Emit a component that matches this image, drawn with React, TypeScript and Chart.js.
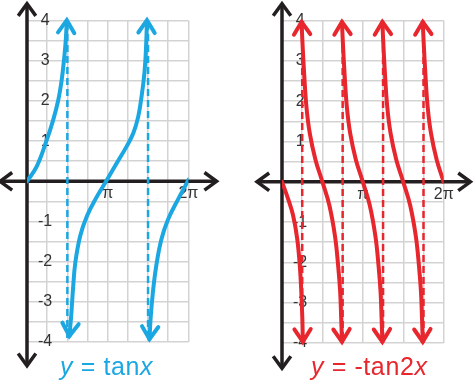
import React, { useEffect, useRef } from 'react';
import { Chart, registerables } from 'chart.js';

Chart.register(...registerables);

const PI = Math.PI;

// grid / tick definitions
const xGridQuarterPi = [0, 1, 2, 3, 4, 5, 6, 7, 8];
const xTickLabels = ['', '', '', '', 'π', '', '', '', '2π'];
const yGridValues = [-4, -3.5, -3, -2.5, -2, -1.5, -1, -0.5, 0, 0.5, 1, 1.5, 2, 2.5, 3, 3.5, 4];
const yTickLabels = ['-4', '', '-3', '', '-2', '', '-1', '', '', '', '1', '', '2', '', '3', '', '4'];

// y = tan x (x in radians)
const tanBranchA = [[0, 0], [0.38, 0.37], [0.77, 1.03], [1.02, 1.53], [1.22, 2.03], [1.35, 2.52], [1.44, 3.02], [1.51, 3.52], [1.55, 4.01]];
const tanBranchB = [[1.65, -3.85], [1.72, -3.35], [1.79, -2.69], [1.88, -2.03], [2.07, -1.36], [2.33, -0.87], [2.66, -0.45], [3.08, 0], [3.49, 0.45], [3.88, 0.87], [4.14, 1.2], [4.33, 1.61], [4.46, 2.11], [4.57, 2.69], [4.63, 3.27], [4.67, 4.01]];
const tanBranchC = [[4.77, -3.93], [4.81, -3.43], [4.9, -2.77], [5.03, -2.11], [5.23, -1.45], [5.49, -0.95], [5.88, -0.45], [6.3, 0.05]];
const tanAsymptotes = [PI / 2, (3 * PI) / 2];

// y = -tan 2x
const negTan2Branch0 = [[0, 0], [0.23, -0.41], [0.43, -0.83], [0.59, -1.41], [0.69, -2.07], [0.75, -2.73], [0.79, -3.39], [0.81, -3.97]];
const negTan2Branch1 = [[0.76, 3.97], [0.79, 3.52], [0.86, 2.69], [0.95, 1.86], [1.08, 1.2], [1.3, 0.55], [1.57, 0], [1.84, -0.58], [2.06, -1.35], [2.18, -2.07], [2.26, -2.73], [2.3, -3.39], [2.33, -3.97]];
const negTan2Branch2 = [[2.33, 3.97], [2.36, 3.52], [2.43, 2.69], [2.52, 1.86], [2.65, 1.2], [2.87, 0.55], [3.14, 0], [3.41, -0.58], [3.63, -1.35], [3.75, -2.07], [3.83, -2.73], [3.87, -3.39], [3.9, -3.97]];
const negTan2Branch3 = [[3.9, 3.97], [3.93, 3.52], [4.0, 2.69], [4.09, 1.86], [4.22, 1.2], [4.44, 0.55], [4.71, 0], [4.98, -0.58], [5.2, -1.35], [5.32, -2.07], [5.4, -2.73], [5.44, -3.39], [5.47, -3.97]];
const negTan2Branch4 = [[5.47, 3.97], [5.5, 3.52], [5.57, 2.69], [5.66, 1.86], [5.79, 1.2], [6.01, 0.55], [6.28, 0]];
const negTan2Asymptotes = [PI / 4, (3 * PI) / 4, (5 * PI) / 4, (7 * PI) / 4];

const asymptoteSpan = [-3.9, 3.9];

const BLUE = '#1ba7e1';
const RED = '#e8262e';
const AXIS = '#231f20';
const GRID = '#d3d3d3';
const FONT = "'Liberation Sans', Arial, sans-serif";

type Branch = { points: number[][]; arrowStart?: boolean; arrowEnd?: boolean };
type PanelSpec = {
  color: string;
  branches: Branch[];
  asymptotes: number[];
  padding: { left: number; right: number; top: number; bottom: number };
  axisX: number[];
  axisY: number[];
};

function chevron(ctx: CanvasRenderingContext2D, tx: number, ty: number, ux: number, uy: number, len: number, ang: number) {
  const rot = (a: number) => {
    const c = Math.cos(a), s = Math.sin(a);
    return [ux * c - uy * s, ux * s + uy * c];
  };
  const [ax, ay] = rot(ang);
  const [bx, by] = rot(-ang);
  ctx.beginPath();
  ctx.moveTo(tx - ax * len, ty - ay * len);
  ctx.lineTo(tx, ty);
  ctx.lineTo(tx - bx * len, ty - by * len);
  ctx.stroke();
}

const arrowPlugin = {
  id: 'mathAxes',
  beforeDatasetsDraw(chart: any, _args: any, opts: any) {
    const { ctx } = chart;
    const xs = chart.scales.x, ys = chart.scales.y;
    const x0 = xs.getPixelForValue(0), y0 = ys.getPixelForValue(0);
    const xl = xs.getPixelForValue(opts.axisX[0]), xr = xs.getPixelForValue(opts.axisX[1]);
    const yb = ys.getPixelForValue(opts.axisY[0]), yt = ys.getPixelForValue(opts.axisY[1]);
    ctx.save();
    ctx.strokeStyle = AXIS;
    ctx.lineWidth = 3.5;
    ctx.lineJoin = 'miter';
    ctx.lineCap = 'butt';
    ctx.beginPath();
    ctx.moveTo(xl + 1, y0);
    ctx.lineTo(xr - 1, y0);
    ctx.moveTo(x0, yb - 1);
    ctx.lineTo(x0, yt + 1);
    ctx.stroke();
    const L = 15, A = (36 * PI) / 180;
    chevron(ctx, xl, y0, -1, 0, L, A);
    chevron(ctx, xr, y0, 1, 0, L, A);
    chevron(ctx, x0, yt, 0, -1, L, A);
    chevron(ctx, x0, yb, 0, 1, L, A);
    ctx.restore();
  },
  afterDatasetsDraw(chart: any) {
    const { ctx } = chart;
    chart.data.datasets.forEach((ds: any, i: number) => {
      if (!ds.arrowStart && !ds.arrowEnd) return;
      const pts = chart.getDatasetMeta(i).data;
      ctx.save();
      ctx.strokeStyle = ds.borderColor;
      ctx.lineWidth = 4;
      ctx.lineJoin = 'miter';
      ctx.lineCap = 'round';
      const draw = (tip: any, prev: any) => {
        let ux = tip.x - prev.x, uy = tip.y - prev.y;
        const d = Math.hypot(ux, uy) || 1;
        ux /= d; uy /= d;
        chevron(ctx, tip.x, tip.y, ux, uy, 15, (33 * PI) / 180);
      };
      if (ds.arrowStart) draw(pts[0], pts[1]);
      if (ds.arrowEnd) draw(pts[pts.length - 1], pts[pts.length - 2]);
      ctx.restore();
    });
  },
};

function buildConfig(p: PanelSpec): any {
  const datasets: any[] = [];
  p.asymptotes.forEach((a) => {
    datasets.push({
      data: [{ x: a, y: asymptoteSpan[0] }, { x: a, y: asymptoteSpan[1] }],
      borderColor: p.color,
      borderWidth: 2.5,
      borderDash: [7, 4],
      pointRadius: 0,
      fill: false,
    });
  });
  p.branches.forEach((b) => {
    datasets.push({
      data: b.points.map(([x, y]) => ({ x, y })),
      borderColor: p.color,
      borderWidth: 4,
      borderCapStyle: 'round',
      borderJoinStyle: 'round',
      pointRadius: 0,
      fill: false,
      tension: 0.4,
      arrowStart: b.arrowStart,
      arrowEnd: b.arrowEnd,
    });
  });
  return {
    type: 'line',
    data: { datasets },
    plugins: [arrowPlugin],
    options: {
      responsive: false,
      animation: false,
      events: [],
      layout: { padding: p.padding },
      plugins: {
        legend: { display: false },
        tooltip: { enabled: false },
        title: { display: false },
        mathAxes: { axisX: p.axisX, axisY: p.axisY },
      },
      scales: {
        x: {
          type: 'linear',
          position: { y: 0 },
          min: 0,
          max: 2 * PI,
          afterBuildTicks: (s: any) => {
            s.ticks = xGridQuarterPi.map((q) => ({ value: (q * PI) / 4 }));
          },
          grid: { color: GRID, lineWidth: 1.5, drawTicks: false },
          border: { display: false },
          ticks: {
            autoSkip: false,
            maxRotation: 0,
            padding: 3,
            color: '#333',
            font: { family: FONT, size: 16 },
            callback: (_v: any, i: number) => xTickLabels[i],
          },
        },
        y: {
          type: 'linear',
          position: 'left',
          min: -4,
          max: 4,
          afterBuildTicks: (s: any) => {
            s.ticks = yGridValues.map((v) => ({ value: v }));
          },
          afterFit: (s: any) => {
            s.width = 0;
          },
          grid: { color: GRID, lineWidth: 1.5, drawTicks: false },
          border: { display: false },
          ticks: {
            autoSkip: false,
            mirror: true,
            crossAlign: 'center',
            padding: 11,
            color: '#333',
            font: { family: FONT, size: 16 },
            callback: (_v: any, i: number) => yTickLabels[i],
          },
        },
      },
    },
  };
}

const leftSpec: PanelSpec = {
  color: BLUE,
  branches: [
    { points: tanBranchA, arrowEnd: true },
    { points: tanBranchB, arrowStart: true, arrowEnd: true },
    { points: tanBranchC, arrowStart: true },
  ],
  asymptotes: tanAsymptotes,
  padding: { left: 27, right: 48.6, top: 19, bottom: 39 },
  axisX: [-1.05, 7.38],
  axisY: [-4.59, 4.42],
};

const rightSpec: PanelSpec = {
  color: RED,
  branches: [
    { points: negTan2Branch0, arrowEnd: true },
    { points: negTan2Branch1, arrowStart: true, arrowEnd: true },
    { points: negTan2Branch2, arrowStart: true, arrowEnd: true },
    { points: negTan2Branch3, arrowStart: true, arrowEnd: true },
    { points: negTan2Branch4, arrowStart: true },
  ],
  asymptotes: negTan2Asymptotes,
  padding: { left: 45, right: 30.3, top: 19, bottom: 38 },
  axisX: [-0.97, 7.32],
  axisY: [-4.63, 4.42],
};

function Panel({ spec, left }: { spec: PanelSpec; left: number }) {
  const ref = useRef<HTMLCanvasElement>(null);
  useEffect(() => {
    if (!ref.current) return;
    const chart = new Chart(ref.current, buildConfig(spec));
    return () => chart.destroy();
  }, [spec]);
  return (
    <canvas
      ref={ref}
      width={237}
      height={381}
      style={{ position: 'absolute', left, top: 0, width: 237, height: 381, display: 'block' }}
    />
  );
}

const captionStyle: React.CSSProperties = {
  position: 'absolute',
  top: 354,
  fontFamily: FONT,
  fontSize: 25,
  lineHeight: '25px',
  letterSpacing: '0.6px',
  whiteSpace: 'nowrap',
};

export default function App() {
  return (
    <div style={{ position: 'absolute', left: 0, top: 0, width: 474, height: 381, background: '#fff', overflow: 'hidden' }}>
      <Panel spec={leftSpec} left={0} />
      <Panel spec={rightSpec} left={237} />
      <div style={{ ...captionStyle, left: 60, color: BLUE }}>
        <i>y</i> = tan<i>x</i>
      </div>
      <div style={{ ...captionStyle, left: 311, color: RED }}>
        <i>y</i> = -tan2<i>x</i>
      </div>
    </div>
  );
}
